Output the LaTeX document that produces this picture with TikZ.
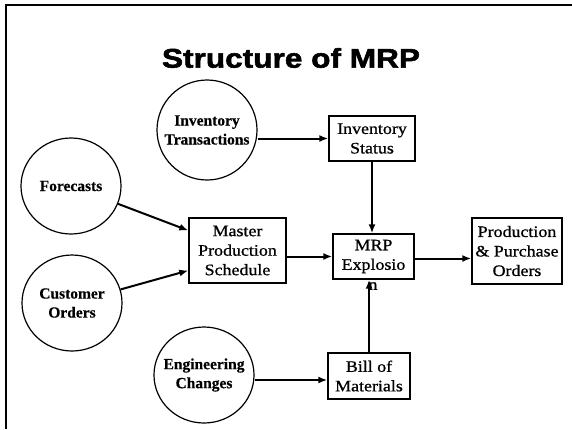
\documentclass[tikz,border=0pt]{standalone}
\usepackage{fontspec}
\usetikzlibrary{arrows.meta,shapes.geometric}
\setmainfont{Liberation Serif}
\newfontfamily\titlefont[FakeStretch=1.17,FakeBold=2]{Liberation Sans Bold}
\newfontfamily\boxfont[FakeStretch=1.12,FakeBold=0.8]{Liberation Serif}
\newfontfamily\circfont[FakeBold=0.3]{Liberation Serif Bold}
\begin{document}
\begin{tikzpicture}[x=1pt,y=-1pt,
  source/.style={ellipse,draw,line width=1.2pt,minimum width=100pt,minimum height=96pt,inner sep=0pt},
  sourcetext/.style={inner sep=0pt,align=center,font=\circfont\fontsize{15.5}{19}\selectfont},
  stage/.style={rectangle,draw,line width=1.4pt,inner sep=0pt,align=center,
    font=\boxfont\fontsize{16}{19.5}\selectfont},
  flow/.style={line width=2pt,-{Latex[length=9pt,width=7pt]}}]
\useasboundingbox (0,0) rectangle (572,429);
\fill[white] (0,0) rectangle (572,429);
% slide frame
\draw[line width=2pt] (6,429) -- (6,5) -- (572,5);
% title
\node (title) at (291,58) {\titlefont\fontsize{27}{30}\selectfont Structure of MRP};
% input sources: circles with their captions
\node[source,minimum height=100pt] (invT) at (207,130) {};
\node[sourcetext] (invTt) at (invT) {Inventory\\Transactions};
\node[source] (fc) at (71,186) {};
\node[sourcetext] (fct) at (fc) {Forecasts};
\node[source] (co) at (72,303) {};
\node[sourcetext] (cot) at (co) {Customer\\Orders};
\node[source] (eng) at (204,375) {};
\node[sourcetext] (engt) at (eng) {Engineering\\Changes};
% processing stages
\node[stage,minimum width=97pt,minimum height=65pt] (mps) at (237.5,250.5) {Master\\Production\\Schedule};
\node[stage,minimum width=86pt,minimum height=45pt] (invS) at (372,138.5) {Inventory\\Status};
\node[stage,minimum width=81pt,minimum height=45pt] (mrp) at (373.5,256.5) {MRP\\Explosio};
\node[font=\boxfont\fontsize{16}{19.5}\selectfont,inner sep=0pt] (mrpn) at (373,286) {n};
\node[stage,minimum width=82pt,minimum height=46pt] (bom) at (369,376) {Bill of\\Materials};
\node[stage,minimum width=90pt,minimum height=66pt] (prod) at (517,251) {Production\\\& Purchase\\Orders};
% connectors
\draw[flow] (invS.west -| invT.east) -- (invS.west);
\draw[flow] (fc) -- ([yshift=20pt]mps.west);
\draw[flow] (co) -- ([yshift=-20pt]mps.west);
\draw[flow] (mps.east |- mrp) -- (mrp.west);
\draw[flow] (invS.south) -- (invS.south |- mrp.north);
\draw[flow] (bom.north) -- ([xshift=-4.5pt]mrp.south);
\draw[flow] ([yshift=-2pt]mrp.east) -- ([yshift=-2pt]mrp.east -| prod.west);
\draw[flow] ([yshift=-5pt]eng.east) -- ([yshift=-5pt]eng.east -| bom.west);
\end{tikzpicture}
\end{document}
